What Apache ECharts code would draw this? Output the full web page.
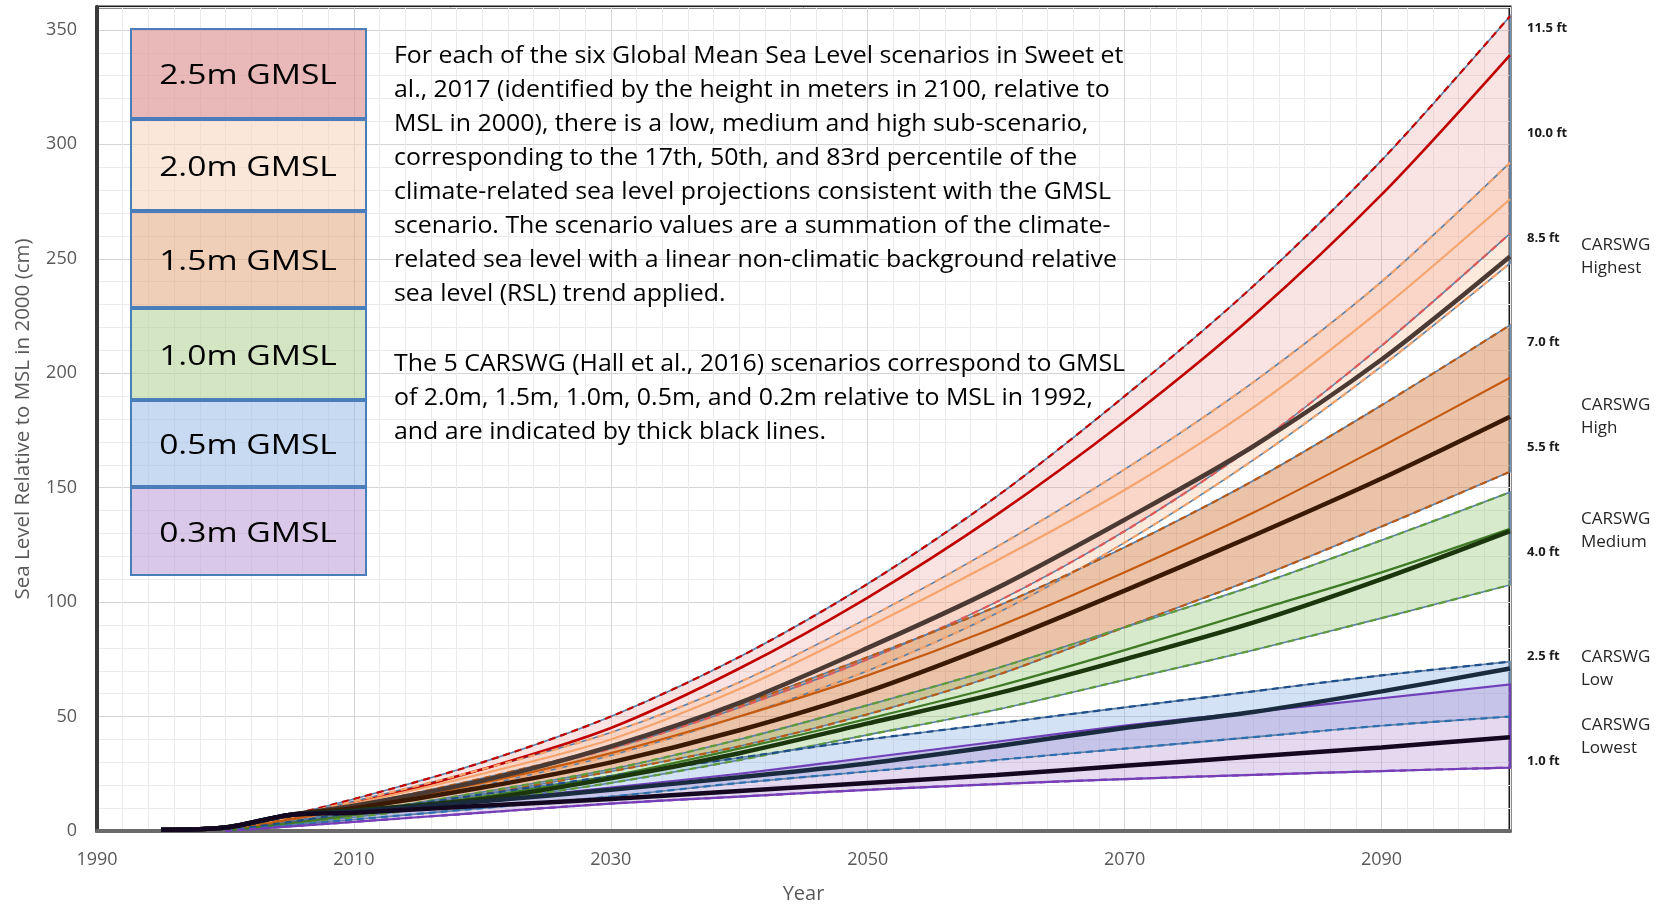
<!DOCTYPE html>
<html>
<head>
<meta charset="utf-8">
<script src="https://cdn.jsdelivr.net/npm/echarts/dist/echarts.min.js"></script>
<style>
html,body{margin:0;padding:0;background:#fff;}
#chart{width:1667px;height:904px;}
</style>
</head>
<body>
<div id="chart"></div>
<script>
// ---------------- DATA (cm relative to MSL in 2000) ----------------
const scenarioYears = [2000, 2010, 2020, 2030, 2040, 2050, 2060, 2070, 2080, 2090, 2100];
const carswgYears = [1995, 2000, 2005, 2010, 2020, 2030, 2040, 2050, 2060, 2070, 2080, 2090, 2100];

const gmsl25High = [0, 14, 30, 50, 76, 108, 146, 190, 238, 293, 356];
const gmsl25Med  = [0, 12, 27, 45, 71, 102, 138, 179, 225, 278, 339];
const gmsl25Low  = [0, 10, 22, 36, 54, 75, 100, 131, 168, 212, 261];

const gmsl20High = [0, 13, 27, 43, 65, 93, 124, 158, 196, 240, 292];
const gmsl20Med  = [0, 12, 25, 40, 62, 89, 118, 149, 185, 228, 276];
const gmsl20Low  = [0, 9, 20, 33, 50, 70, 95, 126, 162, 203, 248];

const gmsl15High = [0, 11, 23, 37, 55, 76, 98, 124, 153, 186, 221];
const gmsl15Med  = [0, 10, 21, 34, 50, 68, 89, 113, 139, 168, 198];
const gmsl15Low  = [0, 7, 16, 26, 37, 51, 68, 89, 110, 133, 157];

const gmsl10High = [0, 8, 17, 27, 40, 55, 71, 89, 107, 127, 148];
const gmsl10Med  = [0, 7, 15, 24, 36, 49, 63, 79, 96, 113, 132];
const gmsl10Low  = [0, 6, 13, 21, 31, 42, 53, 66, 79, 93, 107.5];

const gmsl05High = [0, 8, 16, 24, 32, 40, 47, 54, 61, 68, 74];
const gmsl05Low  = [0, 5, 10, 15, 21, 26, 31, 36, 41, 46, 50];

const gmsl03High = [0, 7, 13, 19, 25, 32, 39, 46, 52, 58, 64];
const gmsl03Low  = [0, 4, 8, 12, 15, 18, 20.5, 22.7, 24.5, 26.2, 27.7];

const carswgHighest = [0.5, 1.5, 7, 11, 22, 37, 56, 80, 106, 136, 168, 206, 251];
const carswgHigh    = [0.5, 1.5, 7, 10, 19, 30, 44, 61, 82, 105, 129, 154, 181];
const carswgMedium  = [0.5, 1.5, 7, 9, 14, 23, 34, 47, 60, 75, 91, 110, 131];
const carswgLow     = [0.5, 1.5, 7, 8.5, 13, 18, 23.5, 29.5, 37, 45, 52, 61, 71];
const carswgLowest  = [0.5, 1.5, 7, 8, 11, 14, 17.5, 21, 24.5, 28.5, 32.5, 36.5, 41];

const legendLabels = ['2.5m GMSL', '2.0m GMSL', '1.5m GMSL', '1.0m GMSL', '0.5m GMSL', '0.3m GMSL'];
const carswgNames = ['Highest', 'High', 'Medium', 'Low', 'Lowest'];
const ftTickLabels = [1.0, 2.5, 4.0, 5.5, 7.0, 8.5, 10.0, 11.5];
const yTickLabels = [0, 50, 100, 150, 200, 250, 300, 350];
const xTickLabels = [1990, 2010, 2030, 2050, 2070, 2090];

const paragraph1 = [
  'For each of the six Global Mean Sea Level scenarios in Sweet et',
  'al., 2017 (identified by the height in meters in 2100, relative to',
  'MSL in 2000), there is a low, medium and high sub-scenario,',
  'corresponding to the 17th, 50th, and 83rd percentile of the',
  'climate-related sea level projections consistent with the GMSL',
  'scenario. The scenario values are a summation of the climate-',
  'related sea level with a linear non-climatic background relative',
  'sea level (RSL) trend applied.'
];
const paragraph2 = [
  'The 5 CARSWG (Hall et al., 2016) scenarios correspond to GMSL',
  'of 2.0m, 1.5m, 1.0m, 0.5m, and 0.2m relative to MSL in 1992,',
  'and are indicated by thick black lines.'
];

// ---------------- STYLES ----------------
const SMOOTH = 0.3;
const OUTLINE = '#5B7FA6';
const bands = [
  {high: gmsl25High, med: gmsl25Med, low: gmsl25Low, fill: 'rgba(228,140,140,0.24)', hiDash: '#C00000', loDash: '#E05A5A', medC: '#C00000', medW: 2.6, outline: OUTLINE, ow: 1.6},
  {high: gmsl20High, med: gmsl20Med, low: gmsl20Low, fill: 'rgba(250,180,130,0.28)', hiDash: '#F4A46C', loDash: '#F4A46C', medC: '#F4A46C', medW: 2.2, outline: OUTLINE, ow: 1.6},
  {high: gmsl15High, med: gmsl15Med, low: gmsl15Low, fill: 'rgba(210,125,65,0.46)', hiDash: '#B85A18', loDash: '#B85A18', medC: '#C55A11', medW: 2.2, outline: OUTLINE, ow: 1.6},
  {high: gmsl10High, med: gmsl10Med, low: gmsl10Low, fill: 'rgba(150,200,120,0.38)', hiDash: '#5E9A3A', loDash: '#5E9A3A', medC: '#3F7A26', medW: 2.2, outline: OUTLINE, ow: 1.6},
  {high: gmsl05High, med: null, low: gmsl05Low, fill: 'rgba(140,180,230,0.38)', hiDash: '#1F4E89', loDash: '#2E6FB0', outline: OUTLINE, ow: 1.6},
  {high: gmsl03High, med: null, low: gmsl03Low, fill: 'rgba(170,128,205,0.30)', hiDash: null, loDash: '#7B3DB5', outline: '#7040B8', ow: 2.2}
];
const carswgSeriesData = [carswgHighest, carswgHigh, carswgMedium, carswgLow, carswgLowest];
const carswgColors = ['#4A3A33', '#3A1A04', '#1B360C', '#1A2B40', '#140820'];
const legendFills = ['rgba(222,150,150,0.68)', 'rgba(248,212,185,0.55)', 'rgba(228,168,128,0.55)', 'rgba(180,210,150,0.58)', 'rgba(160,190,232,0.58)', 'rgba(190,160,215,0.58)'];

const pairs = (xs, ys) => xs.map((x, i) => [x, ys[i]]);

// Same bezier construction as ECharts' smoothed line, so band edges match the lines
function bezierSegs(pts, smooth) {
  let s = '';
  let cpx0 = pts[0][0], cpy0 = pts[0][1];
  for (let i = 1; i < pts.length; i++) {
    const prevX = pts[i - 1][0], prevY = pts[i - 1][1];
    const x = pts[i][0], y = pts[i][1];
    let cpx1, cpy1, nextCpx0 = x, nextCpy0 = y;
    if (i === pts.length - 1) { cpx1 = x; cpy1 = y; }
    else {
      const nextX = pts[i + 1][0], nextY = pts[i + 1][1];
      let vx = nextX - prevX, vy = nextY - prevY;
      const lenPrev = Math.hypot(x - prevX, y - prevY), lenNext = Math.hypot(nextX - x, nextY - y);
      const ratio = lenNext / (lenNext + lenPrev);
      nextCpx0 = x + vx * smooth * ratio; nextCpy0 = y + vy * smooth * ratio;
      nextCpx0 = Math.min(nextCpx0, Math.max(nextX, x)); nextCpy0 = Math.min(nextCpy0, Math.max(nextY, y));
      nextCpx0 = Math.max(nextCpx0, Math.min(nextX, x)); nextCpy0 = Math.max(nextCpy0, Math.min(nextY, y));
      vx = nextCpx0 - x; vy = nextCpy0 - y;
      cpx1 = x - vx * lenPrev / lenNext; cpy1 = y - vy * lenPrev / lenNext;
      cpx1 = Math.min(cpx1, Math.max(prevX, x)); cpy1 = Math.min(cpy1, Math.max(prevY, y));
      cpx1 = Math.max(cpx1, Math.min(prevX, x)); cpy1 = Math.max(cpy1, Math.min(prevY, y));
      vx = x - cpx1; vy = y - cpy1;
      nextCpx0 = x + vx * lenNext / lenPrev; nextCpy0 = y + vy * lenNext / lenPrev;
    }
    s += 'C' + cpx0 + ',' + cpy0 + ',' + cpx1 + ',' + cpy1 + ',' + x + ',' + y;
    cpx0 = nextCpx0; cpy0 = nextCpy0;
  }
  return s;
}

function bandPath(b, api) {
  const up = scenarioYears.map((yr, i) => api.coord([yr, b.high[i]]));
  const lo = scenarioYears.map((yr, i) => api.coord([yr, b.low[i]])).reverse();
  return 'M' + up[0][0] + ',' + up[0][1] + bezierSegs(up, SMOOTH) +
    'L' + lo[0][0] + ',' + lo[0][1] + bezierSegs(lo, SMOOTH) + 'Z';
}

const series = [];
// band fills
series.push({
  type: 'custom', coordinateSystem: 'cartesian2d', silent: true, z: 1,
  data: bands.map(b => [scenarioYears[0], b.low[0]]),
  renderItem: (params, api) => {
    const b = bands[params.dataIndex];
    return {type: 'path', shape: {pathData: bandPath(b, api)}, style: {fill: b.fill, stroke: null}};
  }
});
// band outlines (incl. right edge at 2100)
series.push({
  type: 'custom', coordinateSystem: 'cartesian2d', silent: true, z: 2,
  data: bands.map(b => [scenarioYears[0], b.low[0]]),
  renderItem: (params, api) => {
    const b = bands[params.dataIndex];
    return {type: 'path', shape: {pathData: bandPath(b, api)}, style: {fill: 'none', stroke: b.outline, lineWidth: b.ow}};
  }
});

bands.forEach((b) => {
  if (b.hiDash) series.push({type: 'line', data: pairs(scenarioYears, b.high), smooth: SMOOTH, showSymbol: false, silent: true,
    lineStyle: {color: b.hiDash, width: 2.2, type: [7, 5]}, z: 3});
  series.push({type: 'line', data: pairs(scenarioYears, b.low), smooth: SMOOTH, showSymbol: false, silent: true,
    lineStyle: {color: b.loDash, width: 2.2, type: [7, 5]}, z: 3});
  if (b.med) series.push({type: 'line', data: pairs(scenarioYears, b.med), smooth: SMOOTH, showSymbol: false, silent: true,
    lineStyle: {color: b.medC, width: b.medW}, z: 3});
});

carswgSeriesData.forEach((arr, k) => {
  series.push({
    type: 'line', name: 'CARSWG ' + carswgNames[k], data: pairs(carswgYears, arr), smooth: SMOOTH,
    showSymbol: false, silent: true, lineStyle: {color: carswgColors[k], width: 4.5}, z: 4,
    endLabel: {show: true, formatter: 'CARSWG\n' + carswgNames[k], distance: 71, align: 'left', verticalAlign: 'middle',
      fontFamily: 'Open Sans', fontSize: 17, lineHeight: 23, color: '#262626'}
  });
});

// ---------------- GRAPHIC (legend boxes and notes) ----------------
const legendTop = [29, 120, 212, 309, 401, 488, 577];
const graphic = [];
legendLabels.forEach((t, i) => {
  const y0 = legendTop[i], y1 = legendTop[i + 1] - 2;
  graphic.push({type: 'rect', z: 10, shape: {x: 131, y: y0, width: 235, height: y1 - y0},
    style: {fill: legendFills[i], stroke: '#4A7EBB', lineWidth: 2}});
  graphic.push({type: 'text', z: 11, x: 248, y: (y0 + y1) / 2 + 3, scaleX: 1.2,
    style: {text: t, font: '28px "Open Sans"', fill: '#000', align: 'center', verticalAlign: 'middle'}});
});
graphic.push({type: 'text', z: 11, x: 394, y: 39, scaleX: 1.06,
  style: {text: paragraph1.join('\n'), font: '23.5px "Open Sans"', lineHeight: 34, fill: '#000', align: 'left', verticalAlign: 'top'}});
graphic.push({type: 'text', z: 11, x: 394, y: 347, scaleX: 1.06,
  style: {text: paragraph2.join('\n'), font: '23.5px "Open Sans"', lineHeight: 34, fill: '#000', align: 'left', verticalAlign: 'top'}});

const option = {
  animation: false,
  backgroundColor: '#fff',
  textStyle: {fontFamily: 'Open Sans'},
  grid: {left: 97, right: 157, top: 7, bottom: 73, show: true, borderColor: '#1a1a1a', borderWidth: 3,
    containLabel: false, outerBoundsMode: 'none'},
  xAxis: {
    type: 'value', min: 1990, max: 2100, interval: 10,
    name: 'Year', nameLocation: 'middle', nameGap: 53,
    nameTextStyle: {color: '#595959', fontSize: 20, fontFamily: 'Open Sans'},
    axisLine: {show: true, lineStyle: {color: '#6a6a6a', width: 4}},
    axisTick: {show: false},
    axisLabel: {color: '#595959', fontSize: 18, margin: 20,
      formatter: v => xTickLabels.indexOf(v) >= 0 ? String(v) : ''},
    splitLine: {show: true, lineStyle: {color: ['#D4D4D4', '#EBEBEB'], width: 1}},
    minorTick: {show: false, splitNumber: 5},
    minorSplitLine: {show: true, lineStyle: {color: '#EBEBEB', width: 1}}
  },
  yAxis: [{
    type: 'value', min: 0, max: 360, interval: 10,
    name: 'Sea Level Relative to MSL in 2000 (cm)', nameLocation: 'middle', nameGap: 63,
    nameTextStyle: {color: '#595959', fontSize: 20.5, fontFamily: 'Open Sans'},
    axisLine: {show: true, lineStyle: {color: '#3a3a3a', width: 4}},
    axisTick: {show: false},
    axisLabel: {color: '#595959', fontSize: 18, margin: 20,
      formatter: v => yTickLabels.indexOf(v) >= 0 ? String(v) : ''},
    splitLine: {show: true, lineStyle: {color: ['#D4D4D4', '#EBEBEB', '#EBEBEB', '#EBEBEB', '#EBEBEB'], width: 1}}
  }, {
    type: 'value', position: 'right', min: 0, max: 360 / 30.48, interval: 0.5,
    axisLine: {show: false}, axisTick: {show: false}, splitLine: {show: false},
    axisLabel: {color: '#1a1a1a', fontSize: 13, fontWeight: 'bold', margin: 17,
      formatter: v => ftTickLabels.some(t => Math.abs(t - v) < 1e-6) ? v.toFixed(1) + ' ft' : ''}
  }],
  graphic,
  series
};

const chart = echarts.init(document.getElementById('chart'), null, {renderer: 'canvas'});
chart.setOption(option);
</script>
</body>
</html>
